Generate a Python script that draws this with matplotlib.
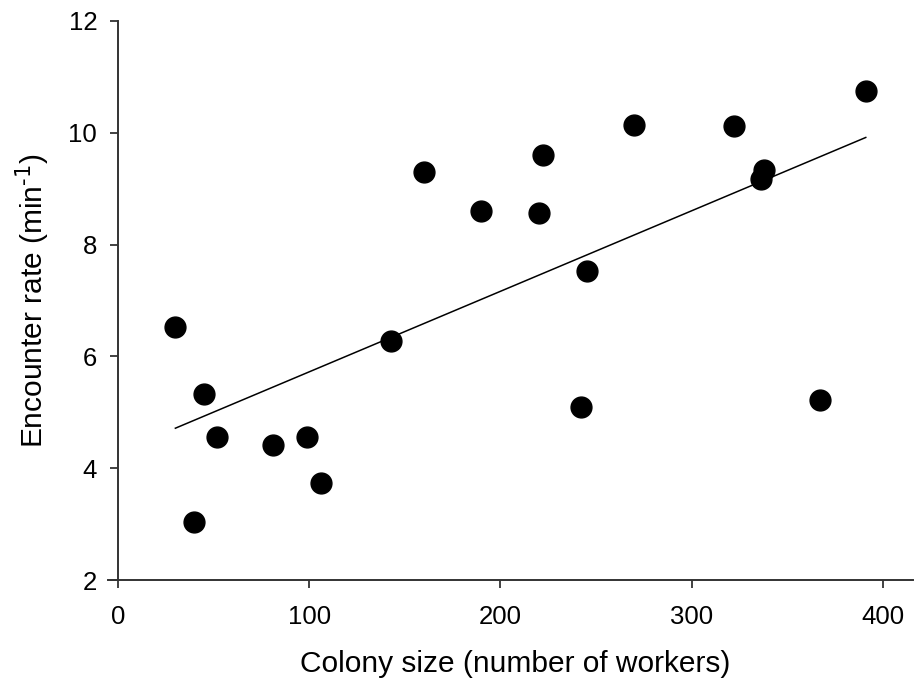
import numpy as np
import matplotlib
matplotlib.use("Agg")
import matplotlib.pyplot as plt

plt.rcParams['font.family'] = ['Liberation Sans', 'DejaVu Sans']

# colony size vs. encounter rate
colony_size = [30, 40, 45, 52, 81, 99, 106, 143, 160, 190,
               220, 222, 242, 245, 270, 322, 336, 338, 367, 391]
encounter_rate = [6.53, 3.04, 5.32, 4.56, 4.41, 4.55, 3.73, 6.28, 9.29, 8.61,
                  8.57, 9.60, 5.09, 7.52, 10.14, 10.13, 9.17, 9.33, 5.22, 10.75]

x = np.array(colony_size)
y = np.array(encounter_rate)

# least squares fit
slope, intercept = np.polyfit(x, y, 1)
xfit = np.array([x.min(), x.max()])
yfit = intercept + slope * xfit

fig = plt.figure(figsize=(9.14, 6.90), dpi=100)
ax = fig.add_axes([118/914, 1 - 580/690, (913 - 118)/914, (580 - 21)/690])

ax.plot(x, y, 'o', color='black', markersize=15, zorder=3)
ax.plot(xfit, yfit, color='black', lw=1.1, zorder=2)

ax.set_xlim(0, 415.7)
ax.set_ylim(2, 12)
ax.set_xticks([0, 100, 200, 300, 400])
ax.set_yticks([2, 4, 6, 8, 10, 12])

ax.spines['top'].set_visible(False)
ax.spines['right'].set_visible(False)
for s in ['left', 'bottom']:
    ax.spines[s].set_linewidth(1.4)
    ax.spines[s].set_color('#333333')
ax.spines['bottom'].set_bounds(-5, 415.7)
ax.spines['bottom'].set_clip_on(False)

ax.tick_params(direction='out', length=6, width=1.3, color='#333333',
               labelsize=18.5)
ax.tick_params(axis='x', pad=12)
ax.tick_params(axis='y', pad=9)

ax.set_xlabel('Colony size (number of workers)', fontsize=21.5, labelpad=15)
ax.set_ylabel(r'Encounter rate (min$^{\text{-1}}$)', fontsize=21.5, labelpad=12)

fig.savefig('out.png', dpi=100)
